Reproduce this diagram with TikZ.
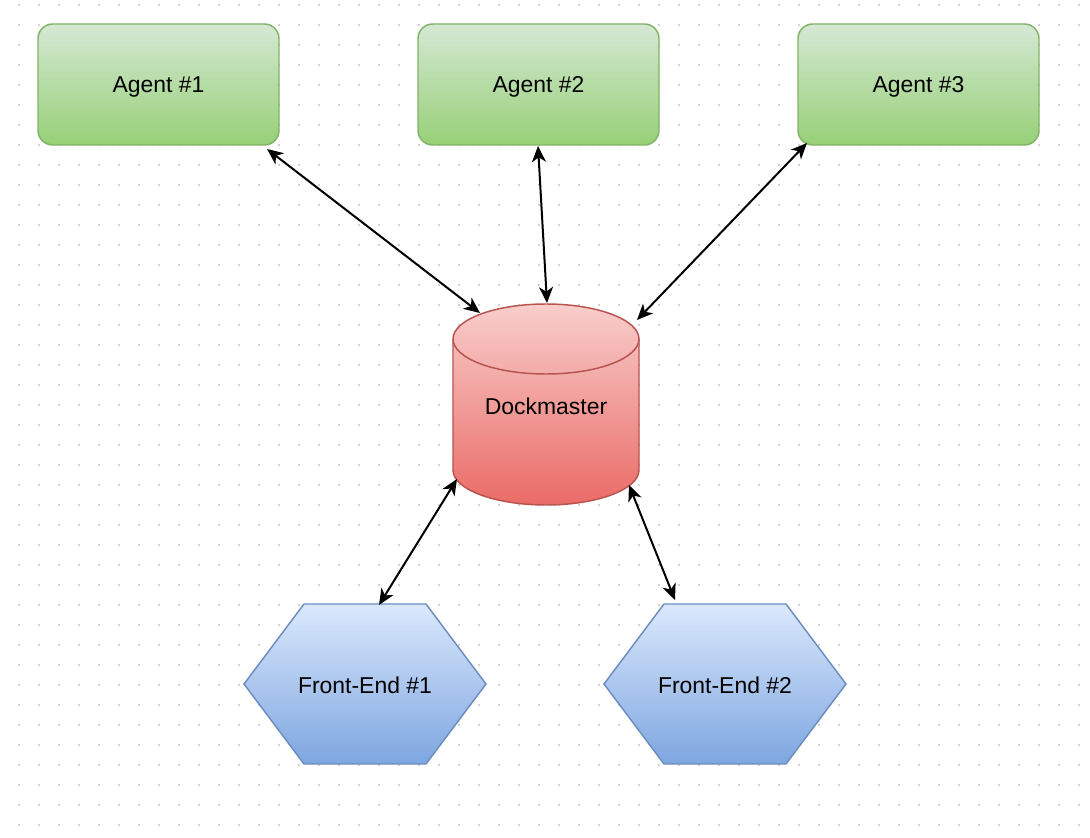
\documentclass[tikz,border=0pt]{standalone}
\usepackage{fontspec}
\setmainfont{Liberation Sans}
\usetikzlibrary{arrows.meta}
\definecolor{dotc}{RGB}{210,210,210}
\definecolor{agtop}{HTML}{D5E8D4}
\definecolor{agbot}{HTML}{97D077}
\definecolor{agline}{HTML}{82B366}
\definecolor{cytop}{HTML}{F8CECC}
\definecolor{cybot}{HTML}{EA6B66}
\definecolor{cyline}{HTML}{B85450}
\definecolor{fetop}{HTML}{DAE8FC}
\definecolor{febot}{HTML}{7EA6E0}
\definecolor{feline}{HTML}{6C8EBF}
\tikzset{
  agent/.style={rectangle, rounded corners=11pt, minimum width=180.75pt, minimum height=90.75pt,
    inner sep=0pt, text depth=0pt, top color=agtop, bottom color=agbot, draw=agline, line width=1.1pt, font=\lbl},
  txt/.style={inner sep=0pt, font=\lbl},
  conn/.style={line width=1.5pt, {Stealth[length=12pt,width=10.5pt,inset=3.5pt]}-{Stealth[length=12pt,width=10.5pt,inset=3.5pt]}},
  cylfill/.style={top color=cytop, bottom color=cybot},
  cylline/.style={draw=cyline, line width=1.1pt},
  hexstyle/.style={top color=fetop, bottom color=febot, draw=feline, line width=1.1pt, line join=miter}
}
\newcommand{\lbl}{\fontsize{17.2}{20}\selectfont}
\begin{document}
\begin{tikzpicture}[x=0.75pt,y=-0.75pt]
\useasboundingbox (0,0) rectangle (1090,838);
\fill[white] (0,0) rectangle (1090,838);
% dot grid
\foreach \i in {0,...,54}{
  \foreach \j in {0,...,41}{
    \fill[dotc] ({18+20*\i},{4+20*\j}) rectangle ++(2,2);
  }
}
% agents
\node[agent] (a1) at (158.5,84.5) {Agent \#1};
\node[agent] (a2) at (538.5,84.5) {Agent \#2};
\node[agent] (a3) at (918.5,84.5) {Agent \#3};
% cylinder
\shade[cylfill] (453,339) -- (453,470)
  .. controls (453,489.33) and (494.64,505) .. (546,505)
  .. controls (597.36,505) and (639,489.33) .. (639,470)
  -- (639,339)
  .. controls (639,319.67) and (597.36,304) .. (546,304)
  .. controls (494.64,304) and (453,319.67) .. (453,339) -- cycle;
\draw[cylline] (453,339) -- (453,470)
  .. controls (453,489.33) and (494.64,505) .. (546,505)
  .. controls (597.36,505) and (639,489.33) .. (639,470)
  -- (639,339)
  .. controls (639,319.67) and (597.36,304) .. (546,304)
  .. controls (494.64,304) and (453,319.67) .. (453,339) -- cycle;
\draw[cylline] (453,339)
  .. controls (453,358.33) and (494.64,374) .. (546,374)
  .. controls (597.36,374) and (639,358.33) .. (639,339);
\node[txt] (dm) at (546,406) {Dockmaster};
% hexagons
\shadedraw[hexstyle] (244,684) -- (304,604) -- (426,604) -- (486,684) -- (426,764) -- (304,764) -- cycle;
\node[txt] (fe1) at (365,685) {Front-End \#1};
\shadedraw[hexstyle] (604,684) -- (664,604) -- (786,604) -- (846,684) -- (786,764) -- (664,764) -- cycle;
\node[txt] (fe2) at (725,685) {Front-End \#2};
% connector end points
\coordinate (a1p) at (267,149);
\coordinate (d1p) at (480,313);
\coordinate (a2p) at (538,146);
\coordinate (d2p) at (547,303);
\coordinate (a3p) at (807,143);
\coordinate (d3p) at (637,320);
\coordinate (d4p) at (457,479);
\coordinate (f1p) at (379,605);
\coordinate (d5p) at (629,485);
\coordinate (f2p) at (675,600);
% connectors
\draw[conn] (a1p) -- (d1p);
\draw[conn] (a2p) -- (d2p);
\draw[conn] (a3p) -- (d3p);
\draw[conn] (d4p) -- (f1p);
\draw[conn] (d5p) -- (f2p);
\end{tikzpicture}
\end{document}
